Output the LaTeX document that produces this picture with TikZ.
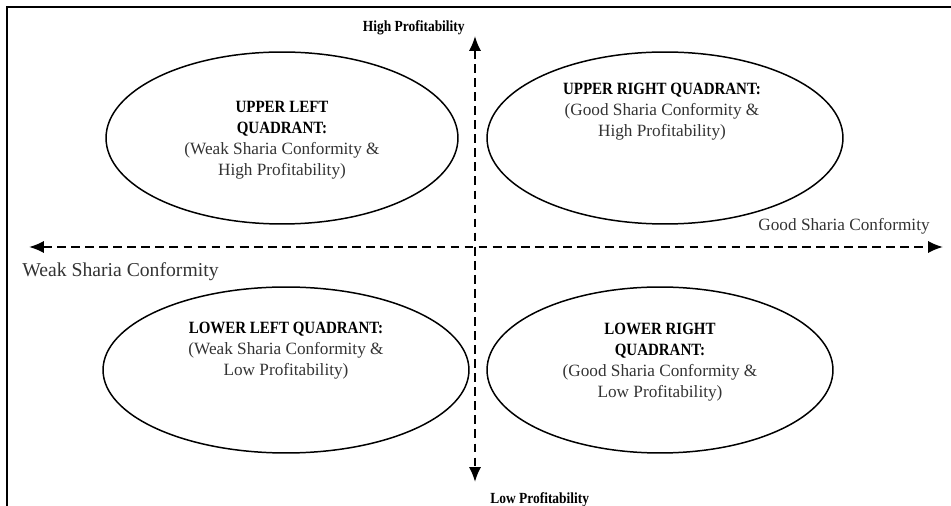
\documentclass[tikz,border=0pt]{standalone}
\usepackage{fontspec}
\setmainfont{Liberation Serif}
\newfontfamily\headfont[FakeStretch=0.87]{Liberation Serif}
\usetikzlibrary{arrows.meta,shapes.geometric}
\newcommand{\qhead}[1]{{\color{black}\headfont\bfseries #1}}

\begin{document}
\begin{tikzpicture}[x=0.02cm,y=-0.02cm]
\tikzstyle{quad}=[ellipse,draw,line width=0.85pt,inner sep=0pt]
\tikzstyle{axis}=[dash pattern=on 5pt off 3pt,line width=1.1pt,{Latex[length=8.5pt,width=7pt]}-{Latex[length=8.5pt,width=7pt]}]
\tikzstyle{txt}=[align=center,text=black!80,font=\fontsize{9.8}{12}\selectfont]
\tikzstyle{lbl}=[inner sep=0pt,font=\headfont\bfseries\fontsize{8.8}{10}\selectfont]
\useasboundingbox (0,0) rectangle (951,506);

% frame
\draw[line width=1.2pt] (7,506) -- (7,7) -- (951,7);

% quadrants
\node (1) at (282,138) [quad,minimum width=7.04cm,minimum height=3.44cm]{};
\node (2) at (665,138) [quad,minimum width=7.12cm,minimum height=3.44cm]{};
\node (3) at (286,370) [quad,minimum width=7.32cm,minimum height=3.32cm]{};
\node (4) at (660,370) [quad,minimum width=6.92cm,minimum height=3.32cm]{};

\node (5) at (282,140) [txt]{\qhead{UPPER LEFT}\\\qhead{QUADRANT:}\\(Weak Sharia Conformity \&\\High Profitability)};
\node (6) at (662,112) [txt]{\qhead{UPPER RIGHT QUADRANT:}\\(Good Sharia Conformity \&\\High Profitability)};
\node (7) at (286,351) [txt]{\qhead{LOWER LEFT QUADRANT:}\\(Weak Sharia Conformity \&\\Low Profitability)};
\node (8) at (660,362) [txt]{\qhead{LOWER RIGHT}\\\qhead{QUADRANT:}\\(Good Sharia Conformity \&\\Low Profitability)};

% axes
\coordinate (13) at (29,247);
\coordinate (14) at (943,247);
\coordinate (15) at (475,36);
\coordinate (16) at (475,482);
\node (9) at (22,272) [anchor=west,inner sep=0pt,text=black!80,font=\fontsize{11.2}{13}\selectfont]{Weak Sharia Conformity};
\node (10) at (930,226) [anchor=east,inner sep=0pt,text=black!80,font=\fontsize{9.8}{12}\selectfont]{Good Sharia Conformity};
\node (11) at (465,28) [lbl,anchor=east]{High Profitability};
\node (12) at (490,500) [lbl,anchor=west]{Low Profitability};

\draw[axis] (13) -- (14);
\draw[axis] (15) -- (16);
\end{tikzpicture}
\end{document}
